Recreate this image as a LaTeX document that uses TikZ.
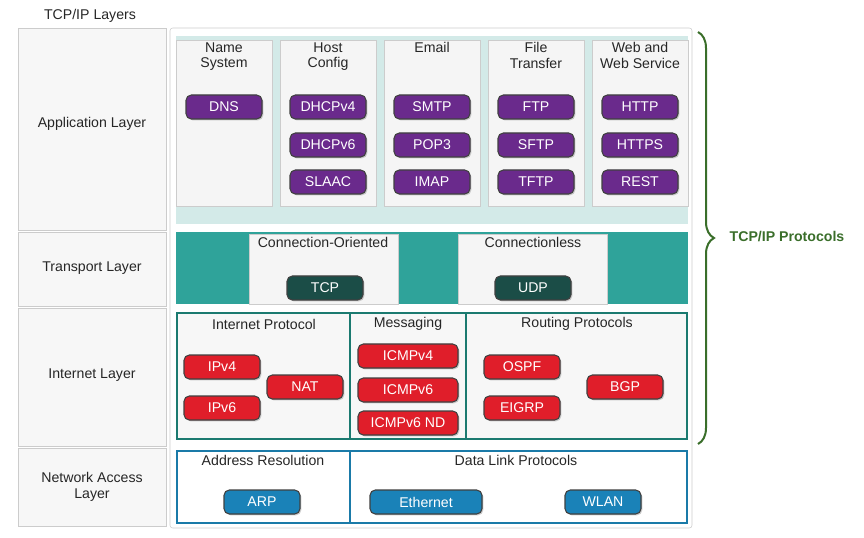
\documentclass[tikz,border=0pt]{standalone}
\usepackage{fontspec}
\setmainfont{Liberation Sans}
\usetikzlibrary{decorations.pathreplacing,shadows}
\definecolor{appbg}{HTML}{D3EAE8}
\definecolor{tealbg}{HTML}{2FA39A}
\definecolor{tealdk}{HTML}{1B4D47}
\definecolor{tealln}{HTML}{1B7A70}
\definecolor{purp}{HTML}{6A2A8C}
\definecolor{redp}{HTML}{E01E2A}
\definecolor{bluep}{HTML}{1A82B8}
\definecolor{bluel}{HTML}{1A7AA8}
\definecolor{grnb}{HTML}{3A6E2A}
\tikzset{
  pill/.style={rounded corners=4pt,draw=black!75,line width=0.8pt,text=white,minimum width=57pt,minimum height=18pt,inner sep=1pt,font=\fontsize{10.6}{11}\selectfont,drop shadow={shadow xshift=1pt,shadow yshift=-1pt,opacity=0.4}},
  app/.style={pill,fill=purp},
  trn/.style={pill,fill=tealdk},
  inet/.style={pill,fill=redp},
  net/.style={pill,fill=bluep},
  colbox/.style={draw=black!20,fill=black!3},
  ttl/.style={font=\fontsize{10.6}{11.5}\selectfont,align=center,text=black!85},
}
\begin{document}
\begin{tikzpicture}[x=0.75pt,y=-0.75pt]
\useasboundingbox (0,0) rectangle (864,538);
% layer column
\node[ttl] (hdr) at (90,16) {TCP/IP Layers};
\draw[colbox] (18,28) rectangle (166,230);
\draw[colbox] (18,232) rectangle (166,306);
\draw[colbox] (18,308) rectangle (166,446);
\draw[colbox] (18,448) rectangle (166,526);
\node[ttl] (lapp) at (92,124) {Application Layer};
\node[ttl] (ltrn) at (92,268) {Transport Layer};
\node[ttl] (lint) at (92,375) {Internet Layer};
\node[ttl] (lnet) at (92,487) {Network Access\\Layer};
% panel
\draw[black!20,fill=white,rounded corners=2pt] (170,28) rectangle (692,528);
% application
\fill[appbg] (176,36) rectangle (688,224);
\foreach \x/\t in {176/Name\\System,280/Host\\Config,384/Email\\\strut,488/File\\Transfer,592/Web and\\Web Service}{
  \draw[colbox,fill=black!4] (\x,40) rectangle (\x+96,206);
  \node[ttl,anchor=north] at (\x+48,38) {\t};
}
\path
  (224,107) node[app](dns) {DNS}
  (328,107) node[app](dhcp4) {DHCPv4}
  (328,145) node[app](dhcp6) {DHCPv6}
  (328,182) node[app](slaac) {SLAAC}
  (432,107) node[app](smtp) {SMTP}
  (432,145) node[app](pop) {POP3}
  (432,182) node[app](imap) {IMAP}
  (536,107) node[app](ftp) {FTP}
  (536,145) node[app](sftp) {SFTP}
  (536,182) node[app](tftp) {TFTP}
  (640,107) node[app](http) {HTTP}
  (640,145) node[app](https) {HTTPS}
  (640,182) node[app](rest) {REST};
% transport
\fill[tealbg] (176,232) rectangle (688,304);
\draw[colbox,fill=black!4] (249,234) rectangle (398,304);
\draw[colbox,fill=black!4] (458,234) rectangle (607,304);
\node[ttl] (co) at (323,242) {Connection-Oriented};
\node[ttl] (cl) at (533,242) {Connectionless};
\path
  (325,288) node[trn](tcp) {TCP}
  (533,288) node[trn](udp) {UDP};
% internet
\draw[tealln,line width=2pt,fill=black!3] (177,313) rectangle (687,439);
\draw[tealln,line width=2pt] (350,313) -- (350,439) (466,313) -- (466,439);
\node[ttl] (ip) at (264,324) {Internet Protocol};
\node[ttl] (msg) at (408,324) {Messaging};
\node[ttl] (rp) at (577,324) {Routing Protocols};
\path
  (222,367) node[inet](ipv4) {IPv4}
  (222,408) node[inet](ipv6) {IPv6}
  (305,387) node[inet](nat) {NAT}
  (408,356) node[inet,minimum width=75pt](icmp4) {ICMPv4}
  (408,390) node[inet,minimum width=75pt](icmp6) {ICMPv6}
  (408,423) node[inet,minimum width=75pt](icmpnd) {ICMPv6 ND}
  (522,367) node[inet](ospf) {OSPF}
  (522,408) node[inet](eigrp) {EIGRP}
  (625,387) node[inet](bgp) {BGP};
% network access
\draw[bluel,line width=2pt,fill=white] (177,451) rectangle (687,523);
\draw[bluel,line width=2pt] (350,451) -- (350,523);
\node[ttl] (ar) at (263,460) {Address Resolution};
\node[ttl] (dl) at (516,460) {Data Link Protocols};
\path
  (262,502) node[net](arp) {ARP}
  (426,502) node[net,minimum width=84pt](eth) {Ethernet}
  (603,502) node[net](wlan) {WLAN};
% brace
\draw[grnb,line width=1.5pt,decorate,decoration={brace,amplitude=12pt}] (698,32) -- (698,444);
\node[font=\fontsize{10.6}{11}\selectfont\bfseries,text=grnb] (prot) at (787,237) {TCP/IP Protocols};
\end{tikzpicture}
\end{document}
